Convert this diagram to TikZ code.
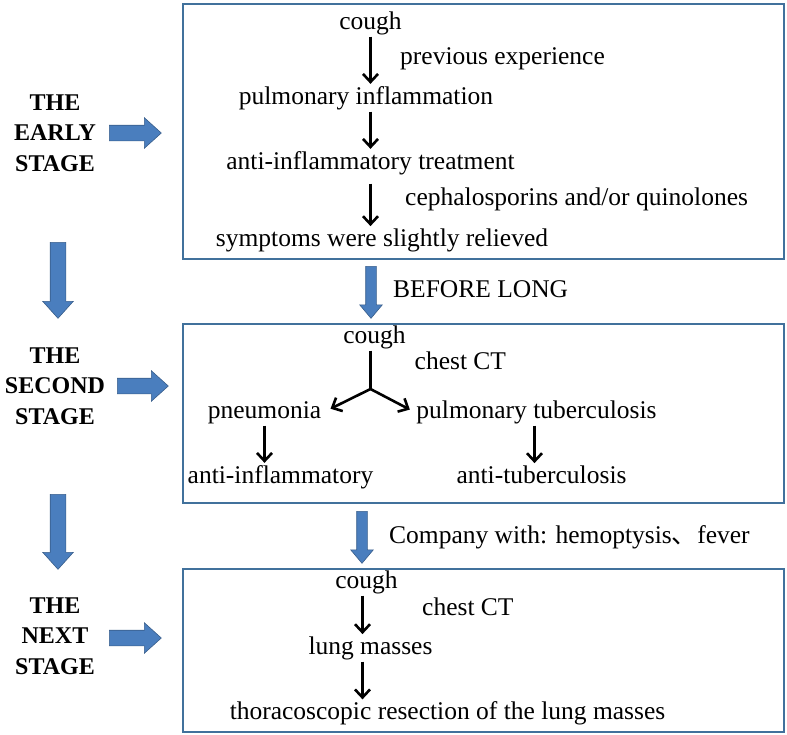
\documentclass[tikz,border=0pt]{standalone}
\usepackage{fontspec}
\setmainfont{Liberation Serif}
\newfontfamily\cjkfont{Noto Sans CJK SC}
\usetikzlibrary{arrows.meta,shapes.arrows}
\definecolor{boxblue}{RGB}{65,113,156}
\definecolor{arrfill}{RGB}{74,126,190}
\definecolor{arrdraw}{RGB}{56,93,138}

\begin{document}
\begin{tikzpicture}[x=1pt, y=-1pt,
  txt/.style = {anchor=base, inner sep=2pt, font=\fontsize{25.5}{30}\selectfont},
  stage/.style = {align=center, inner sep=0pt, font=\fontsize{24}{30.5}\selectfont\bfseries},
  frame/.style = {draw=boxblue, line width=1.8pt},
  arr/.style = {line width=2.6pt, -{Straight Barb[length=8pt,width=15pt]}},
  bigarr/.style = {single arrow, draw=arrdraw, fill=arrfill, line width=0.6pt, inner sep=0pt, inner ysep=7.5pt, single arrow head extend=7.5pt, single arrow tip angle=84, anchor=tail},
  midarr/.style = {bigarr, inner ysep=5pt, single arrow head extend=6pt, single arrow tip angle=80}]
\useasboundingbox (0,0) rectangle (787,734);

\node[stage] (s1) at (55,133) {THE\\EARLY\\STAGE};
\node[stage] (s2) at (55,386) {THE\\SECOND\\STAGE};
\node[stage] (s3) at (55,636) {THE\\NEXT\\STAGE};
\node[bigarr, minimum height=52pt] (r1) at (109,133) {};
\node[bigarr, minimum height=51pt] (r2) at (117,386) {};
\node[bigarr, minimum height=52pt] (r3) at (109,638) {};
\node[bigarr, rotate=-90, minimum height=76pt] (d1) at (58,242) {};
\node[bigarr, rotate=-90, minimum height=75pt] (d2) at (58,494) {};
\node[midarr, rotate=-90, minimum height=52pt] (m1) at (371,266) {};
\node[midarr, rotate=-90, minimum height=52pt] (m2) at (362,511) {};

\draw[frame] (183,4) rectangle (784,259);
\draw[frame] (183,324) rectangle (784,503);
\draw[frame] (183,569) rectangle (784,732);

\node[txt] (c1) at (370.5,29) {cough};
\node[txt, anchor=base west] (pe) at (398,64) {previous experience};
\node[txt] (pi) at (366,104) {pulmonary inflammation};
\node[txt] (ai) at (370.5,169) {anti-inflammatory treatment};
\node[txt, anchor=base west] (cq) at (403,205) {cephalosporins and/or quinolones};
\node[txt] (sr) at (382,246) {symptoms were slightly relieved};
\draw[arr] (c1.south) -- (c1.south |- pi.north);
\draw[arr] (pi.south -| c1) -- (ai.north -| c1);
\draw[arr, shorten <=7pt] (ai.south -| c1) -- (sr.north -| c1);

\node[txt, anchor=base west] (bl) at (391,297.5) {BEFORE LONG};

\node[txt] (c2) at (374.5,343) {cough};
\node[txt, anchor=base west] (ct2) at (412.5,369) {chest CT};
\coordinate (br) at (370.5,389);
\node[txt] (pn) at (264.5,418) {pneumonia};
\node[txt] (pt) at (536.5,418) {pulmonary tuberculosis};
\node[txt] (an) at (280.5,483) {anti-inflammatory};
\node[txt] (at) at (541.5,483) {anti-tuberculosis};
\draw[line width=2.6pt] (c2.south -| br) -- (br);
\draw[arr, shorten >=8pt] (br) -- (pn.east);
\draw[arr, shorten >=5pt] (br) -- (pt.west);
\draw[arr] (pn.south) -- (pn.south |- an.north);
\draw[arr] ([xshift=-2pt]pt.south) -- ([xshift=-2pt]pt.south |- at.north);

\node[txt, anchor=base west] (cw) at (387,543) {Company with: hemoptysis{\cjkfont 、}fever};

\node[txt] (c3) at (366.5,588) {cough};
\node[txt, anchor=base west] (ct3) at (420,615) {chest CT};
\node[txt] (lm) at (370.5,654) {lung masses};
\node[txt] (tr) at (447.5,719.5) {thoracoscopic resection of the lung masses};
\coordinate (k3) at ([xshift=-4pt]c3.south);
\draw[arr] (k3) -- (k3 |- lm.north);
\draw[arr] (lm.south -| k3) -- (tr.north -| k3);
\end{tikzpicture}
\end{document}
